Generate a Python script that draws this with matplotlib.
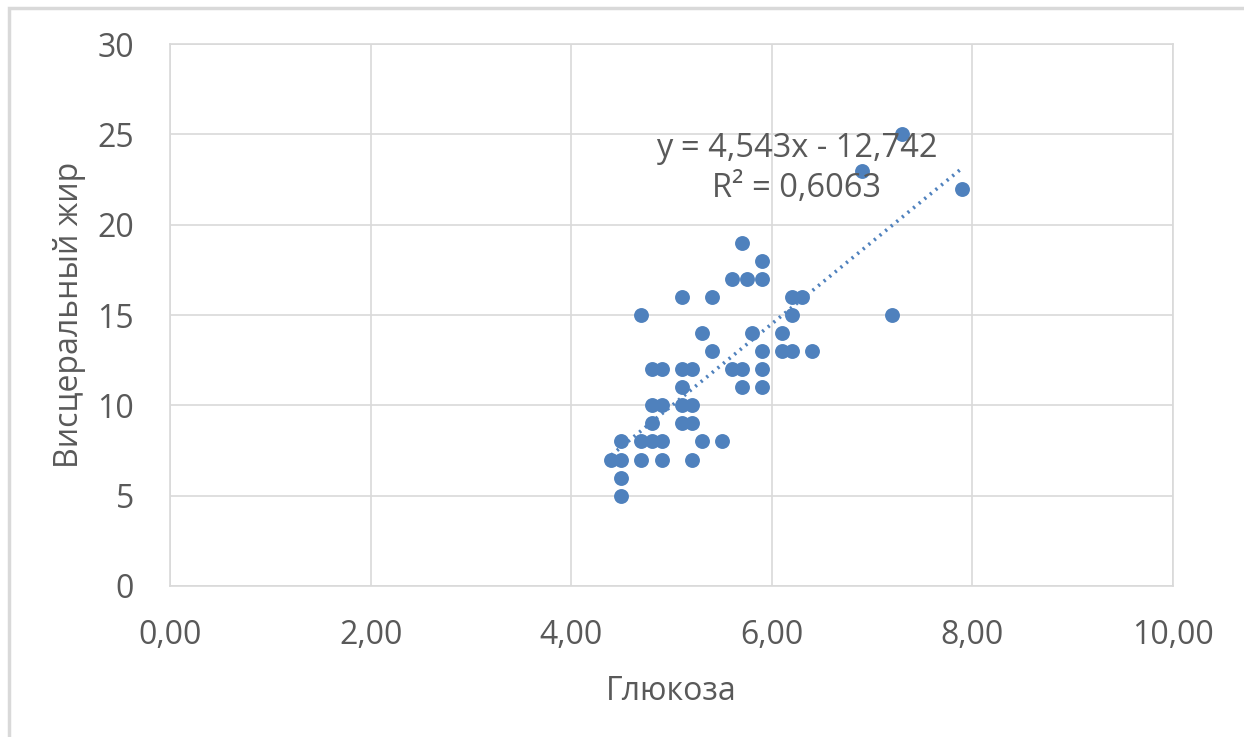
import numpy as np
import matplotlib.pyplot as plt
from matplotlib.patches import Rectangle

plt.rcParams['font.family'] = ['Open Sans', 'DejaVu Sans']

# Глюкоза / Висцеральный жир
glucose = [5.7, 5.9, 5.6, 5.75, 5.9, 5.1, 5.4, 6.2, 6.3, 4.7, 6.2,
           5.3, 5.8, 6.1, 5.4, 5.9, 6.1, 6.2, 6.4,
           4.8, 4.9, 5.1, 5.2, 5.6, 5.7, 5.9, 5.1, 5.7, 5.9,
           4.8, 4.9, 5.1, 5.2, 4.8, 5.1, 5.2,
           4.5, 4.7, 4.8, 4.9, 5.3, 5.5,
           4.4, 4.5, 4.7, 4.9, 5.2, 4.5, 4.5,
           7.3, 6.9, 7.9, 7.2]
visceral_fat = [19, 18, 17, 17, 17, 16, 16, 16, 16, 15, 15,
                14, 14, 14, 13, 13, 13, 13, 13,
                12, 12, 12, 12, 12, 12, 12, 11, 11, 11,
                10, 10, 10, 10, 9, 9, 9,
                8, 8, 8, 8, 8, 8,
                7, 7, 7, 7, 7, 6, 5,
                25, 23, 22, 15]

# linear trendline as printed on the chart
slope, intercept = 4.543, -12.742
trend_label = 'y = 4,543x - 12,742\nR² = 0,6063'

x_ticks = [0, 2, 4, 6, 8, 10]
x_tick_labels = ['0,00', '2,00', '4,00', '6,00', '8,00', '10,00']
y_ticks = [0, 5, 10, 15, 20, 25, 30]

blue = '#4F81BD'
grey_text = '#595959'
grid_col = '#d9d9d9'
fs = 23

fig = plt.figure(figsize=(12.44, 7.37), dpi=100)
ax = fig.add_axes([0.1367, 0.2049, 0.8063, 0.7353])

# outer chart frame
fig.patches.append(Rectangle((9 / 1244, -0.05), 1.1, 1 - 8 / 737 + 0.05,
                             transform=fig.transFigure, fill=False,
                             edgecolor='#d9d9d9', linewidth=2.5))

ax.scatter(glucose, visceral_fat, s=115, color=blue, zorder=3, linewidths=0)

xt = np.array([min(glucose), max(glucose)])
ax.plot(xt, slope * xt + intercept, linestyle=(0, (0.6, 1.4)), color=blue,
        linewidth=2.6, zorder=2)

ax.text(6.25, 23.1, trend_label, ha='center', va='center', fontsize=23.5,
        color=grey_text, linespacing=1.3, zorder=4)

ax.set_xlim(0, 10)
ax.set_ylim(0, 30)
ax.set_xticks(x_ticks)
ax.set_xticklabels(x_tick_labels)
ax.set_yticks(y_ticks)
ax.grid(True, color=grid_col, linewidth=1.2)
ax.set_axisbelow(True)
for sp in ax.spines.values():
    sp.set_color(grid_col)
    sp.set_linewidth(1.2)
ax.tick_params(length=0, labelsize=fs, labelcolor=grey_text)
ax.tick_params(axis='y', pad=26)
ax.tick_params(axis='x', pad=24)

ax.set_xlabel('Глюкоза', fontsize=fs, color=grey_text, labelpad=16)
ax.set_ylabel('Висцеральный жир', fontsize=fs, color=grey_text, labelpad=8)

fig.savefig('out.png', dpi=100)
